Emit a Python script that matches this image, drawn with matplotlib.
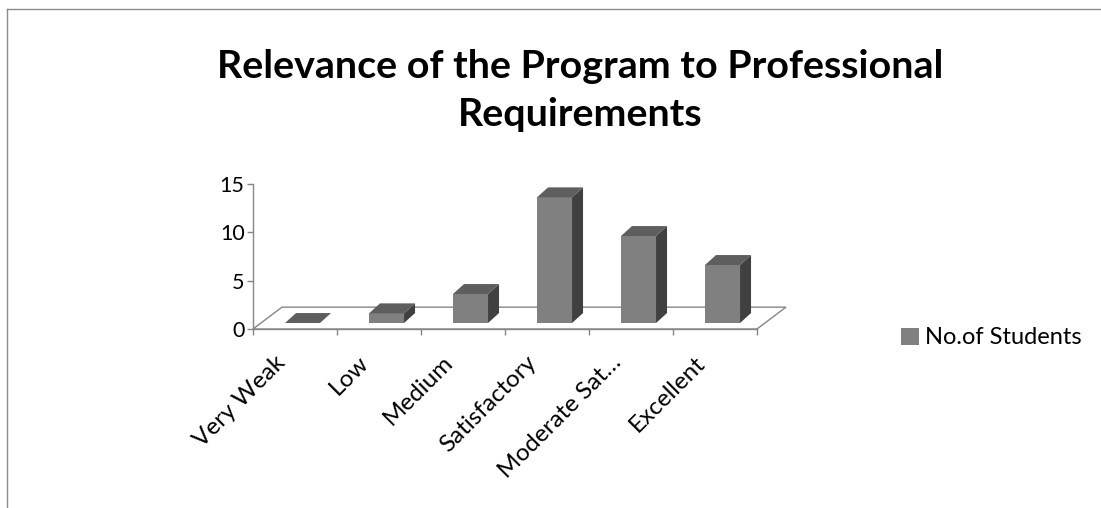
import matplotlib
matplotlib.use("Agg")
import matplotlib.pyplot as plt
import matplotlib.transforms as mtransforms
from matplotlib.patches import Polygon, Patch
from matplotlib.lines import Line2D

categories = ["Very Weak", "Low", "Medium", "Satisfactory", "Moderate Sat\u2026", "Excellent"]
values = [0, 1, 3, 13, 9, 6]
y_ticks = [0, 5, 10, 15]
series_name = "No.of Students"
title = "Relevance of the Program to Professional\nRequirements"

FONT = "Lato"
FRONT = "#808080"
SIDE = "#404040"
TOP = "#5e5e5e"
GRID = "#868686"

W, H = 1101, 508
fig = plt.figure(figsize=(W / 100, H / 100), dpi=100)
fig.patch.set_facecolor("white")

# outer chart border (top and left visible)
fig.add_artist(Line2D([7 / W, 1.01], [1 - 9 / H, 1 - 9 / H], color="#8c8c8c", lw=1.0))
fig.add_artist(Line2D([7 / W, 7 / W], [1 - 9 / H, -0.01], color="#8c8c8c", lw=1.0))

ax = fig.add_axes([253 / W, (H - 329) / H, 504 / W, 145 / H])
n = len(categories)
ax.set_xlim(0, n)
ax.set_ylim(0, 15)

# floor
fdx, fdy = 0.345, 2.26
floor = Polygon([(0, 0), (n, 0), (n + fdx, fdy), (fdx, fdy)], closed=True,
                facecolor="white", edgecolor=GRID, lw=1.0, clip_on=False, zorder=1)
ax.add_patch(floor)

# bars (pseudo-3D)
off_x, off_y = 0.381, 0.62
bw = 0.417
ddx, ddy = 0.131, 1.03
for i, v in enumerate(values):
    x0 = i + off_x
    x1 = x0 + bw
    y0 = off_y
    y1 = off_y + v
    if v > 0:
        ax.bar(x0, v, width=bw, bottom=y0, align="edge", color=FRONT,
               edgecolor="none", zorder=3, clip_on=False)
        ax.add_patch(Polygon([(x1, y0), (x1 + ddx, y0 + ddy), (x1 + ddx, y1 + ddy), (x1, y1)],
                             closed=True, facecolor=SIDE, edgecolor="none", zorder=3, clip_on=False))
    ax.add_patch(Polygon([(x0, y1), (x1, y1), (x1 + ddx, y1 + ddy), (x0 + ddx, y1 + ddy)],
                         closed=True, facecolor=TOP, edgecolor="none", zorder=3, clip_on=False))

for s in ["top", "right"]:
    ax.spines[s].set_visible(False)
for s in ["left", "bottom"]:
    ax.spines[s].set_color(GRID)
    ax.spines[s].set_linewidth(1.0)
    ax.spines[s].set_zorder(2)
ax.patch.set_alpha(0)

ax.set_yticks(y_ticks)
ax.set_yticklabels([str(t) for t in y_ticks], fontsize=15.5, family=FONT)
ax.tick_params(axis="y", length=4, width=1, color=GRID, pad=2)

ax.set_xticks(range(n + 1))
ax.set_xticklabels([])
ax.tick_params(axis="x", which="major", length=4, width=1, color=GRID)
ax.set_xticks([i + 0.5 for i in range(n)], minor=True)
ax.set_xticklabels(categories, minor=True, rotation=45, ha="right", va="top",
                   rotation_mode="anchor", fontsize=17.5, family=FONT)
ax.tick_params(axis="x", which="minor", length=0, pad=0)
shift = mtransforms.ScaledTranslation(-21 / 100, -23 / 100, fig.dpi_scale_trans)
for lbl in ax.get_xticklabels(minor=True):
    lbl.set_transform(lbl.get_transform() + shift)

fig.text(580 / W, 1 - 49 / H, title, ha="center", va="top", fontsize=28.4,
         fontweight="bold", family=FONT, linespacing=1.45)

fig.legend(handles=[Patch(facecolor=FRONT, edgecolor="none", label=series_name)],
           loc="center left", bbox_to_anchor=(901 / W, 1 - 338 / H), frameon=False,
           prop={"family": FONT, "size": 17}, handlelength=0.76, handleheight=0.76,
           handletextpad=0.25, borderpad=0, borderaxespad=0)

fig.savefig("out.png", dpi=100, facecolor="white")
